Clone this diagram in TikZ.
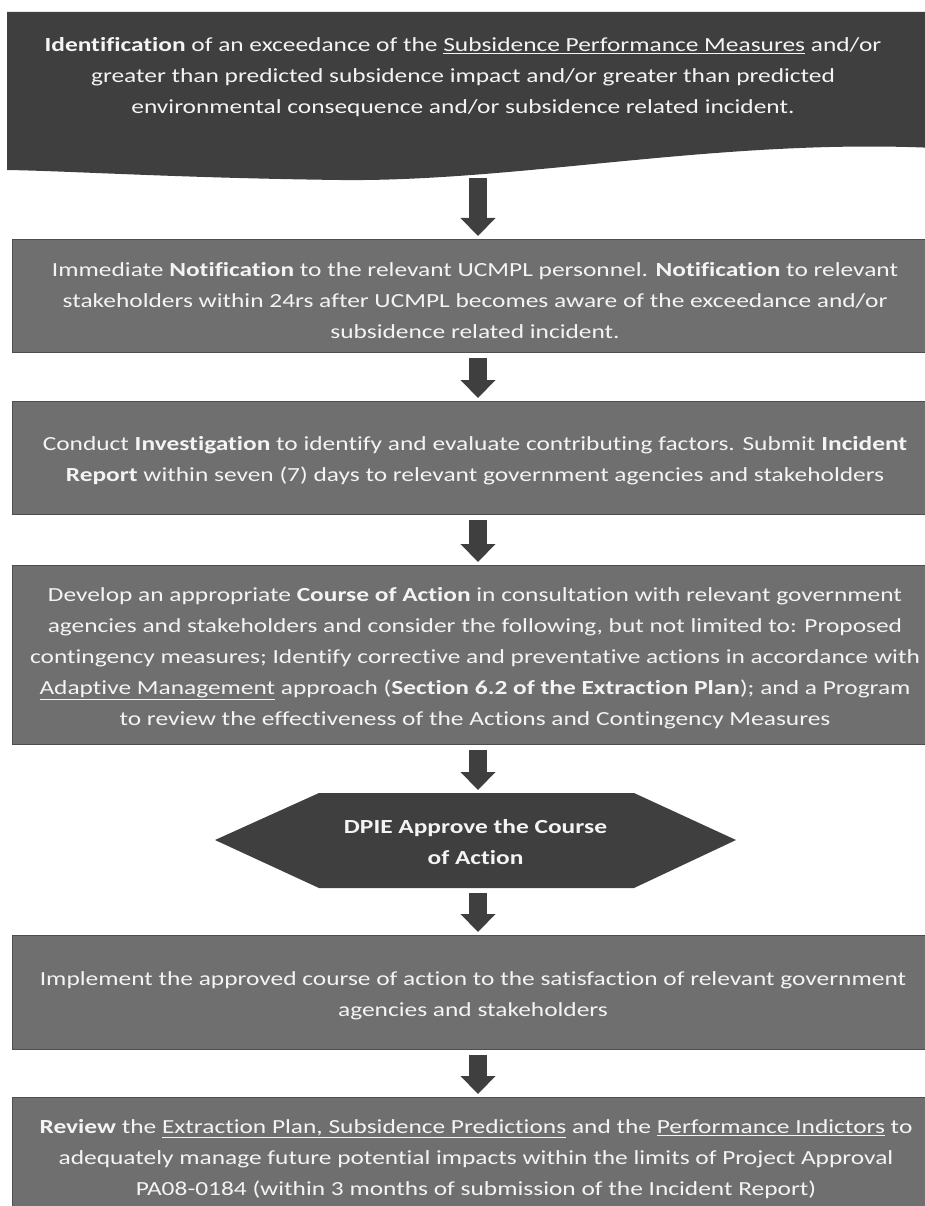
\documentclass[tikz,border=0pt]{standalone}
\usepackage{fontspec}
\setmainfont{Carlito}[FakeStretch=1.27, Ligatures=NoCommon]
\usetikzlibrary{arrows.meta}
\definecolor{darkfill}{HTML}{3F3F3F}
\definecolor{midfill}{HTML}{6F6F6F}
\definecolor{edgecol}{HTML}{4E4E4E}
\definecolor{txtcol}{HTML}{F4F4F4}
\newcommand{\ul}[1]{\underline{#1}}
\tikzset{
  x=1pt, y=-1pt,
  txt/.style={text=txtcol, align=center, font=\fontsize{20}{31}\selectfont, inner sep=0pt},
  box/.style={fill=midfill, draw=edgecol, line width=1.2pt, minimum width=920pt, inner sep=0pt, anchor=north west},
  flow/.style={draw=darkfill, line width=18pt, -{Triangle[width=34pt,length=18pt]}, shorten <=5pt, shorten >=3pt},
}
\begin{document}
\begin{tikzpicture}
\useasboundingbox (0,0) rectangle (925,1206);
% box 1 (document shape)
\fill[darkfill] (7,12) -- (935,12) -- (935,148)
  .. controls (720,138) and (520,182) .. (340,180)
  .. controls (180,178) and (70,171) .. (7,170) -- cycle;
\node[txt] (b1) at (463,77) {\textbf{Identification} of an exceedance of the \ul{Subsidence Performance Measures} and/or\\
greater than predicted subsidence impact and/or greater than predicted\\
environmental consequence and/or subsidence related incident.};
\coordinate (b1s) at (478,173);
% box 2
\node[box, minimum height=113pt] (b2) at (12,239) {};
\node[txt] (b2t) at ([yshift=-4pt]b2.center -| 475,0) {Immediate \textbf{Notification} to the relevant UCMPL personnel. \textbf{Notification} to relevant\\
stakeholders within 24rs after UCMPL becomes aware of the exceedance and/or\\
subsidence related incident.};
% box 3
\node[box, minimum height=113pt] (b3) at (12,401) {};
\node[txt] (b3t) at ([yshift=-3pt]b3.center -| 475,0) {Conduct \textbf{Investigation} to identify and evaluate contributing factors. Submit \textbf{Incident}\\
\textbf{Report} within seven (7) days to relevant government agencies and stakeholders};
% box 4
\node[box, minimum height=179pt] (b4) at (12,565) {};
\node[txt] (b4t) at ([yshift=-3pt]b4.center -| 475,0) {Develop an appropriate \textbf{Course of Action} in consultation with relevant government\\
agencies and stakeholders and consider the following, but not limited to: Proposed\\
contingency measures; Identify corrective and preventative actions in accordance with\\
\ul{Adaptive Management} approach (\textbf{Section 6.2 of the Extraction Plan}); and a Program\\
to review the effectiveness of the Actions and Contingency Measures};
% hexagon
\coordinate (hx) at (475.5,840);
\coordinate (hxn) at (475.5,793);
\coordinate (hxs) at (475.5,888);
\fill[darkfill] (215,840) -- (319,793) -- (634,793) -- (736,840) -- (634,888) -- (319,888) -- cycle;
\node[txt, font=\fontsize{20}{31}\selectfont\bfseries] (hxt) at ([yshift=-2pt]hx) {DPIE Approve the Course\\of Action};
% box 6
\node[box, minimum height=114pt] (b6) at (12,935) {};
\node[txt] (b6t) at ([yshift=-3pt]b6.center -| 473,0) {Implement the approved course of action to the satisfaction of relevant government\\
agencies and stakeholders};
% box 7
\node[box, minimum height=120pt] (b7) at (12,1097) {};
\node[txt, anchor=north] (b7t) at (476,1119) {\textbf{Review} the \ul{Extraction Plan, Subsidence Predictions} and the \ul{Performance Indictors} to\\
adequately manage future potential impacts within the limits of Project Approval\\
PA08-0184 (within 3 months of submission of the Incident Report)};
% arrows
\draw[flow] (b1s) -- (b2.north -| b1s);
\draw[flow] (b2.south -| b1s) -- (b3.north -| b1s);
\draw[flow] (b3.south -| b1s) -- (b4.north -| b1s);
\draw[flow] (b4.south -| b1s) -- (hxn -| b1s);
\draw[flow] (hxs -| b1s) -- (b6.north -| b1s);
\draw[flow] (b6.south -| b1s) -- (b7.north -| b1s);
\end{tikzpicture}
\end{document}
